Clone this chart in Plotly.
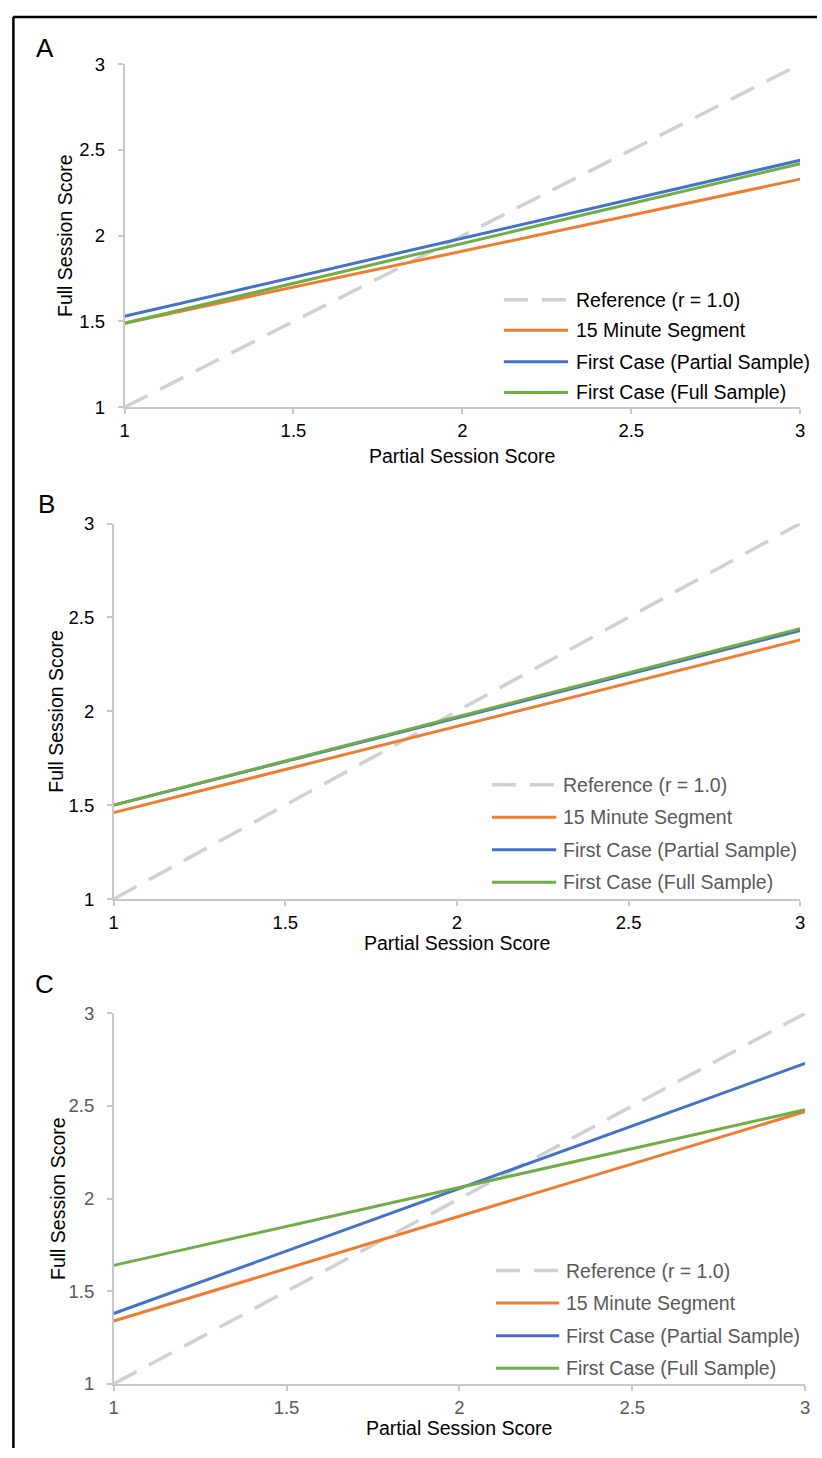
import plotly.graph_objects as go

W, H = 822, 1458

# ---- data ----
x_vals = [1, 3]
series_names = ["Reference (r = 1.0)", "15 Minute Segment",
                "First Case (Partial Sample)", "First Case (Full Sample)"]
panel_labels = ["A", "B", "C"]

ref_line = [1.0, 3.0]
# Panel A
a_15min = [1.49, 2.33]
a_first_partial = [1.53, 2.44]
a_first_full = [1.49, 2.42]
# Panel B
b_15min = [1.46, 2.38]
b_first_partial = [1.50, 2.43]
b_first_full = [1.50, 2.44]
# Panel C
c_15min = [1.34, 2.47]
c_first_partial = [1.38, 2.73]
c_first_full = [1.64, 2.48]

tick_vals = [1, 1.5, 2, 2.5, 3]
tick_text = ["1", "1.5", "2", "2.5", "3"]

panels_data = [
    [ref_line, a_15min, a_first_partial, a_first_full],
    [ref_line, b_15min, b_first_partial, b_first_full],
    [ref_line, c_15min, c_first_partial, c_first_full],
]

# ---- styling ----
colors = ["#D0D0D0", "#ED7D31", "#4472C4", "#70AD47"]
FONT = "Liberation Sans, Arial, sans-serif"
AX_COLOR = "#C8C8C8"

# pixel layout per panel: (x_left, x_right, y_top, y_bottom)
boxes = [(121, 805, 54, 402), (110, 805, 520, 901), (110, 810, 1017, 1393)]
tick_colors = ["#000000", "#000000", "#595959"]
legend_colors = ["#000000", "#595959", "#595959"]
legend_geo = [  # (line x0, line x1, text x, rows y)
    (505, 570, 576, [293, 324, 356, 387]),
    (493, 558, 563, [785, 818, 851, 884]),
    (497, 561, 566, [1278, 1311, 1344, 1377]),
]
letter_pos = [(40, 38), (42, 500), (40, 987)]
xtitle_y = [451, 946, 1438]
ytitle_x = [60, 52, 53]


def px(x):
    return x / W


def py(y):
    return 1 - y / H


fig = go.Figure()
shapes = []
annotations = []

for i, data in enumerate(panels_data):
    xa = "x" if i == 0 else f"x{i+1}"
    ya = "y" if i == 0 else f"y{i+1}"
    for j, yv in enumerate(data):
        fig.add_trace(go.Scatter(
            x=x_vals, y=yv, mode="lines", name=series_names[j],
            xaxis=xa, yaxis=ya, showlegend=False, hoverinfo="skip",
            line=dict(color=colors[j], width=3.5 if j == 0 else 3,
                      dash="26px,14px" if j == 0 else "solid"),
        ))
    x0, x1, y0, y1 = boxes[i]
    axis_common = dict(
        range=[1, 3], tickvals=tick_vals, ticktext=tick_text,
        showgrid=False, zeroline=False, showline=True, linecolor=AX_COLOR,
        linewidth=1.5, ticks="outside", ticklen=5, tickcolor=AX_COLOR,
        tickwidth=1.5, tickfont=dict(family=FONT, size=18.5, color=tick_colors[i]),
        fixedrange=True,
    )
    xkey = "xaxis" if i == 0 else f"xaxis{i+1}"
    ykey = "yaxis" if i == 0 else f"yaxis{i+1}"
    fig.update_layout(**{
        xkey: dict(domain=[px(x0), px(x1)], anchor=ya, ticklabelstandoff=1, **axis_common),
        ykey: dict(domain=[py(y1), py(y0)], anchor=xa, ticklabelstandoff=9, **axis_common),
    })

    # axis titles
    annotations.append(dict(
        text="Partial Session Score", x=px((x0 + x1) / 2), y=py(xtitle_y[i]),
        xref="paper", yref="paper", showarrow=False, xanchor="center", yanchor="middle",
        font=dict(family=FONT, size=19.5, color="#000000")))
    annotations.append(dict(
        text="Full Session Score", x=px(ytitle_x[i]), y=py((y0 + y1) / 2),
        xref="paper", yref="paper", showarrow=False, xanchor="center", yanchor="middle",
        textangle=-90, font=dict(family=FONT, size=19.5, color="#000000")))
    # panel letter
    lx, ly = letter_pos[i]
    annotations.append(dict(
        text=panel_labels[i], x=px(lx), y=py(ly), xref="paper", yref="paper",
        showarrow=False, xanchor="center", yanchor="middle",
        font=dict(family=FONT, size=26, color="#000000")))

    # legend (manual)
    lx0, lx1, tx, rows = legend_geo[i]
    for j, ry in enumerate(rows):
        shapes.append(dict(
            type="line", xref="paper", yref="paper",
            x0=px(lx0), x1=px(lx1), y0=py(ry), y1=py(ry),
            line=dict(color=colors[j], width=3.5 if j == 0 else 3,
                      dash="24px,14px" if j == 0 else "solid")))
        annotations.append(dict(
            text=series_names[j], x=px(tx), y=py(ry), xref="paper", yref="paper",
            showarrow=False, xanchor="left", yanchor="middle",
            font=dict(family=FONT, size=19.5, color=legend_colors[i])))

# outer border (top and left edges visible)
shapes.append(dict(type="line", xref="paper", yref="paper",
                   x0=px(8), x1=1.0, y0=py(6), y1=py(6),
                   line=dict(color="#000000", width=2.5)))
shapes.append(dict(type="line", xref="paper", yref="paper",
                   x0=px(8.5), x1=px(8.5), y0=py(6), y1=0,
                   line=dict(color="#000000", width=2.5)))

fig.update_layout(
    width=W, height=H, margin=dict(l=0, r=0, t=0, b=0),
    paper_bgcolor="white", plot_bgcolor="white",
    shapes=shapes, annotations=annotations, showlegend=False,
    font=dict(family=FONT),
)

fig.write_html(
    "out.html",
    config={"displayModeBar": False},
    post_script="document.body.style.margin='0';document.body.style.overflow='hidden';",
)
